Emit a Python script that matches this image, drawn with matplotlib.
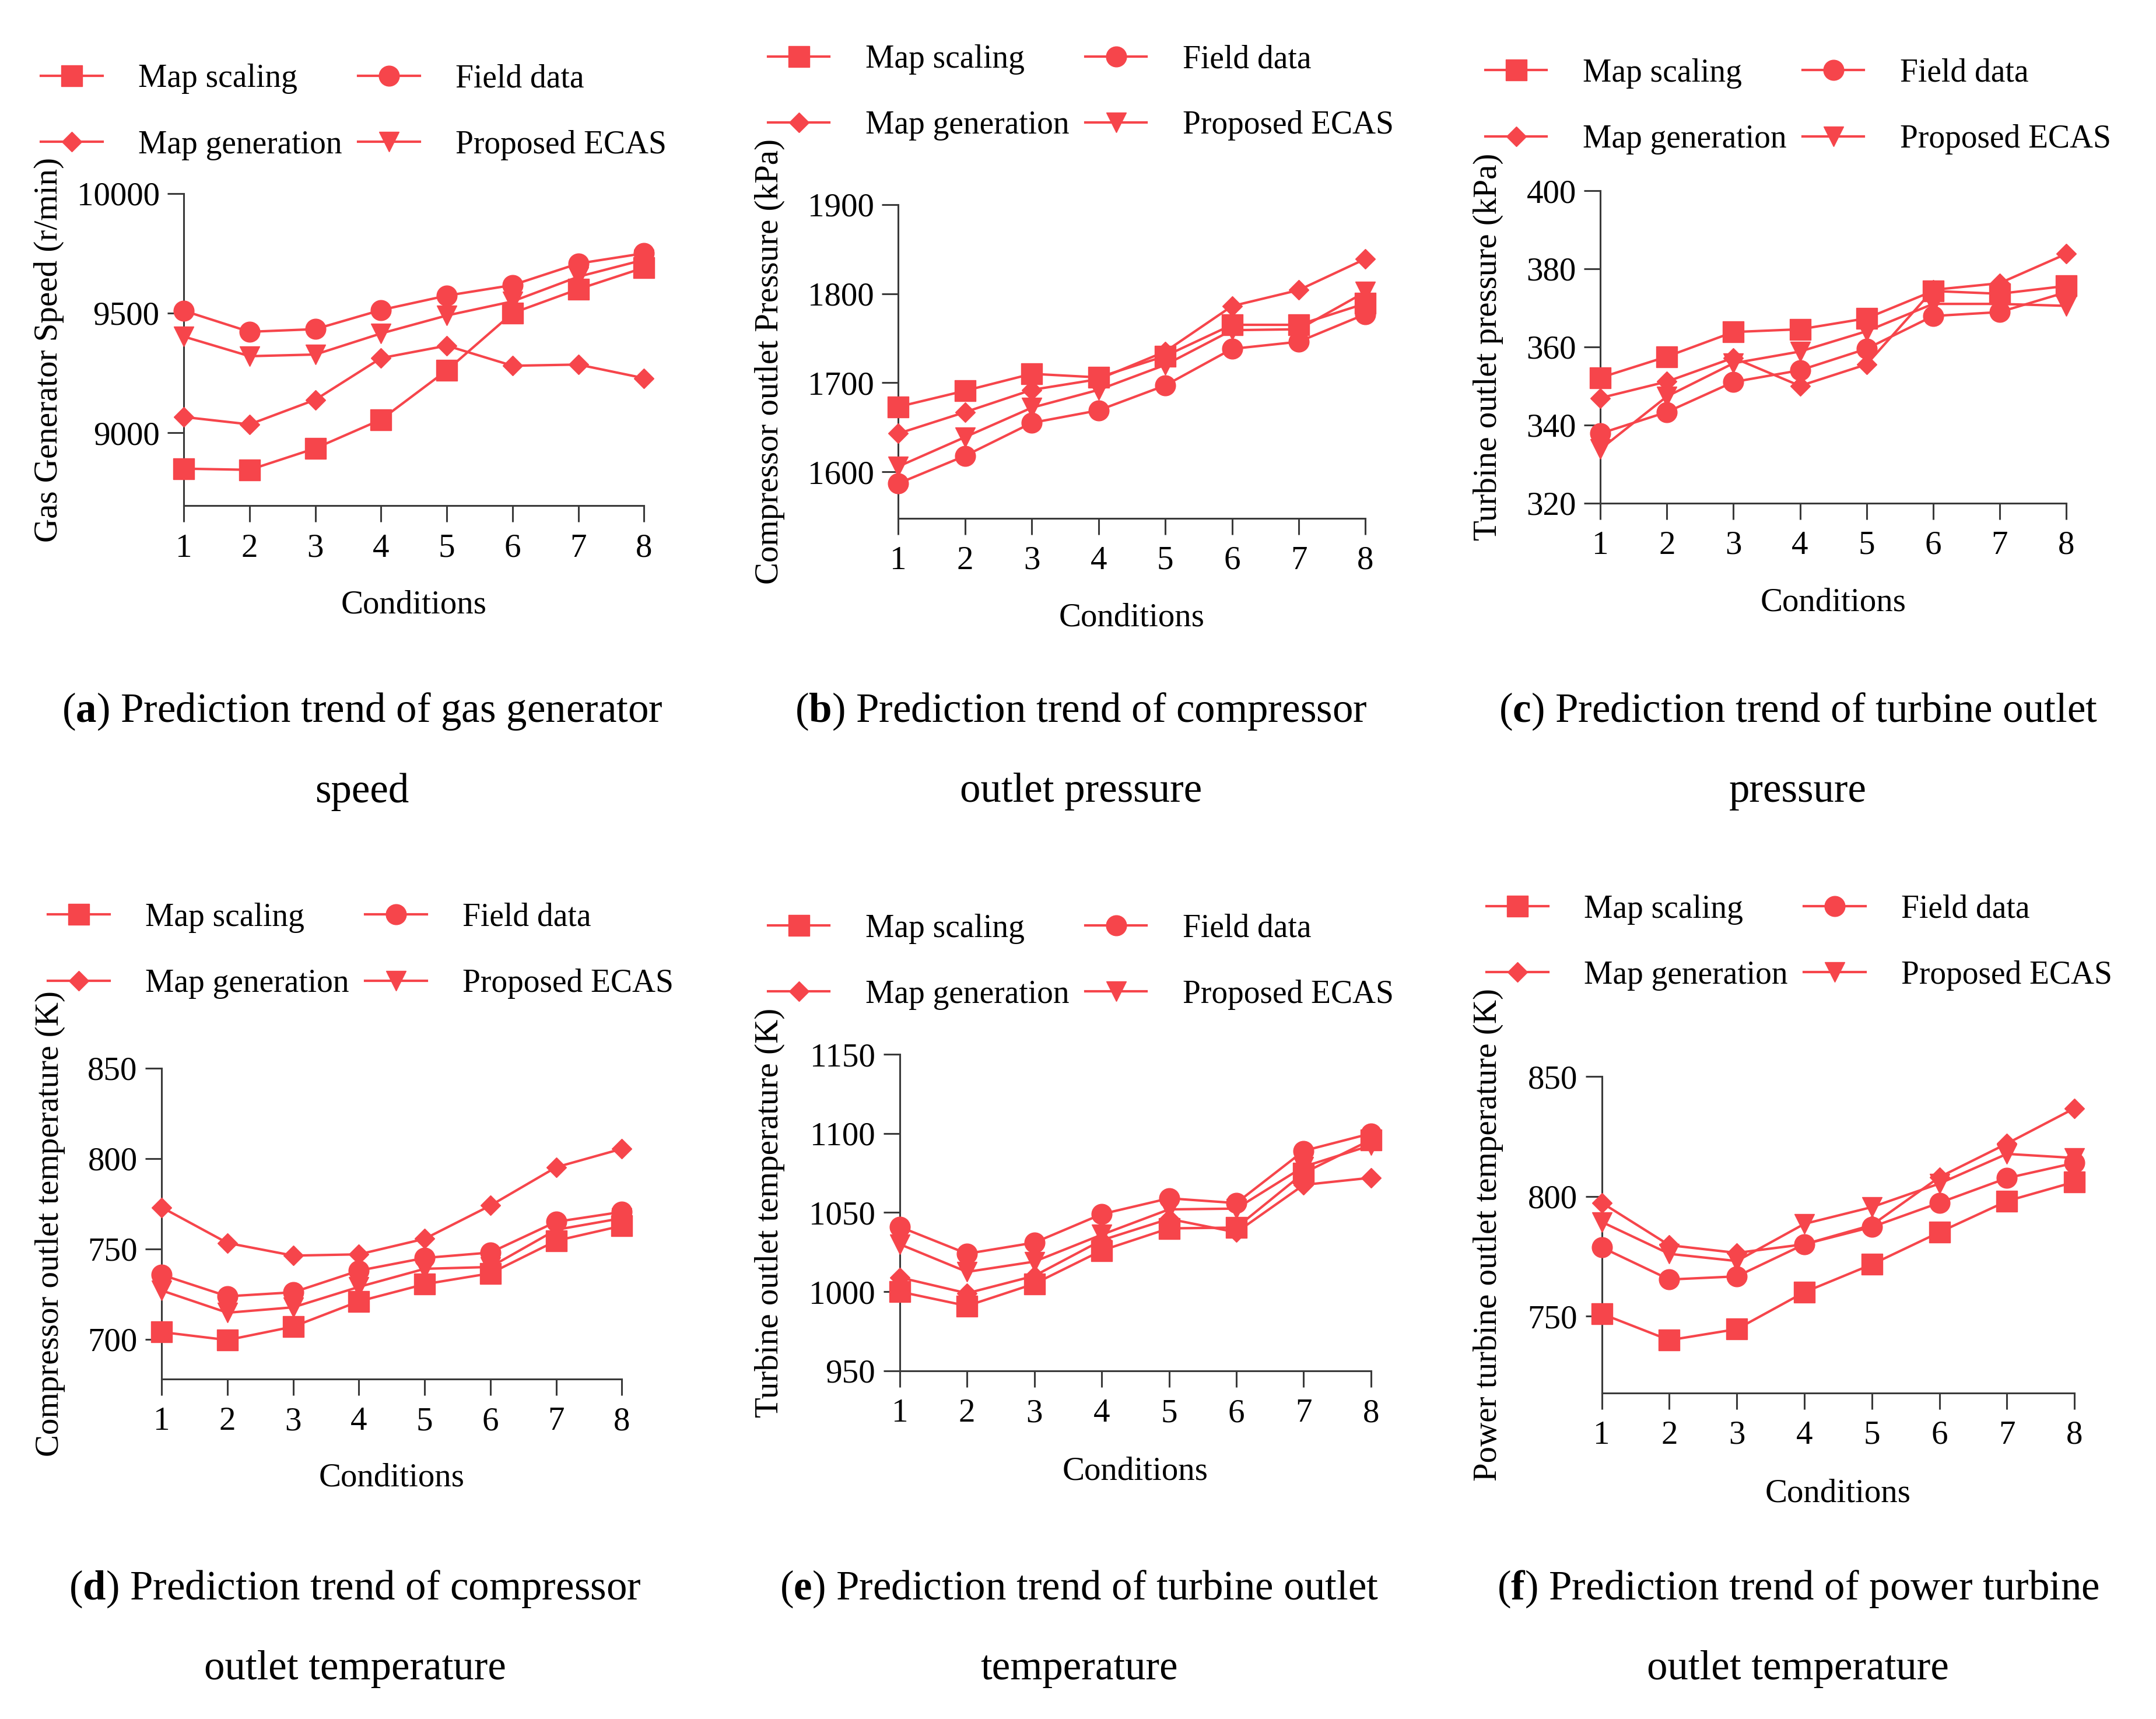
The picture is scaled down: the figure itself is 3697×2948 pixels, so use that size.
import numpy as np
import matplotlib
matplotlib.use("Agg")
import matplotlib.pyplot as plt

plt.rcParams['font.family'] = ['Liberation Serif', 'DejaVu Serif']
plt.rcParams['mathtext.fontset'] = 'custom'
plt.rcParams['mathtext.rm'] = 'Liberation Serif'
plt.rcParams['mathtext.bf'] = 'Liberation Serif:bold'

# x axis
conditions = [1, 2, 3, 4, 5, 6, 7, 8]
series_names = ['Map scaling', 'Field data', 'Map generation', 'Proposed ECAS']

# (a) gas generator speed (r/min)
speed_scaling = [8850, 8845, 8935, 9055, 9261, 9500, 9600, 9690]
speed_field = [9510, 9422, 9433, 9513, 9573, 9617, 9707, 9750]
speed_generation = [9066, 9035, 9138, 9312, 9364, 9280, 9285, 9228]
speed_ecas = [9402, 9320, 9327, 9415, 9490, 9549, 9652, 9723]

# (b) compressor outlet pressure (kPa)
cpress_scaling = [1673, 1691, 1710, 1706, 1730, 1765, 1765, 1789]
cpress_field = [1587, 1618, 1655, 1669, 1697, 1738, 1746, 1777]
cpress_generation = [1643, 1667, 1692, 1704, 1735, 1786, 1804, 1839]
cpress_ecas = [1606, 1639, 1672, 1692, 1720, 1759, 1760, 1802]

# (c) turbine outlet pressure (kPa)
tpress_scaling = [352.1, 357.5, 363.8, 364.5, 367.3, 374.3, 373.6, 375.6]
tpress_field = [337.8, 343.3, 351.0, 354.0, 359.5, 367.9, 368.9, 374.0]
tpress_generation = [346.9, 351.1, 357.2, 350.0, 355.5, 374.6, 376.3, 383.8]
tpress_ecas = [333.8, 347.3, 355.8, 358.8, 364.0, 371.0, 371.0, 370.5]

# (d) compressor outlet temperature (K)
ctemp_scaling = [704, 699.6, 707, 721, 730.5, 736.5, 754.5, 762.8]
ctemp_field = [735.7, 723.8, 726, 738, 745, 748, 765, 770.5]
ctemp_generation = [773, 753.3, 746.3, 747, 755.6, 774, 795.2, 805.4]
ctemp_ecas = [727, 714.7, 717.7, 729, 739, 740, 760.6, 767]

# (e) turbine outlet temperature (K)
ttemp_scaling = [1000, 991, 1005, 1026, 1040, 1040.5, 1075, 1096]
ttemp_field = [1041, 1024, 1031, 1049, 1059, 1056, 1089, 1100]
ttemp_generation = [1009, 999, 1010, 1032.5, 1046, 1037.5, 1067.5, 1072]
ttemp_ecas = [1030, 1012.5, 1019, 1036, 1052, 1052.5, 1079, 1092.5]

# (f) power turbine outlet temperature (K)
ptemp_scaling = [751, 740, 744.6, 760, 771.6, 785, 798, 806]
ptemp_field = [778.7, 765.3, 766.6, 780, 787.2, 797.3, 807.6, 813.9]
ptemp_generation = [797.3, 779.6, 776.4, 780, 788, 808, 822, 836.7]
ptemp_ecas = [789.3, 776, 773, 788.5, 795.5, 805.3, 817.7, 816]

ylabels = ['Gas Generator Speed (r/min)', 'Compressor outlet Pressure (kPa)',
           'Turbine outlet pressure (kPa)', 'Compressor outlet temperature (K)',
           'Turbine outlet temperature (K)', 'Power turbine outlet temperature (K)']
letters = ['a', 'b', 'c', 'd', 'e', 'f']
captions_1 = ['Prediction trend of gas generator', 'Prediction trend of compressor',
              'Prediction trend of turbine outlet', 'Prediction trend of compressor',
              'Prediction trend of turbine outlet', 'Prediction trend of power turbine']
captions_2 = ['speed', 'outlet pressure', 'pressure', 'outlet temperature',
              'temperature', 'outlet temperature']
ylims = [(8695, 10000), (1548, 1900), (320, 400), (678, 850), (950, 1150), (718, 850)]
yticks = [[9000, 9500, 10000], [1600, 1700, 1800, 1900], [320, 340, 360, 380, 400],
          [700, 750, 800, 850], [950, 1000, 1050, 1100, 1150], [750, 800, 850]]

panel_data = [
    (speed_scaling, speed_field, speed_generation, speed_ecas),
    (cpress_scaling, cpress_field, cpress_generation, cpress_ecas),
    (tpress_scaling, tpress_field, tpress_generation, tpress_ecas),
    (ctemp_scaling, ctemp_field, ctemp_generation, ctemp_ecas),
    (ttemp_scaling, ttemp_field, ttemp_generation, ttemp_ecas),
    (ptemp_scaling, ptemp_field, ptemp_generation, ptemp_ecas),
]

# layout, measured on a 1560 x 1244 grid of the reference
W, H = 1560.0, 1244.0
axes_px = [(133, 466, 140, 366), (650, 988, 148, 375), (1158, 1495, 138, 364),
           (117, 450, 773, 998), (651, 992, 763, 992), (1159, 1501, 779, 1008)]
legend_px = [(256, 81), (782, 67), (1301, 77), (261, 688), (782, 696), (1302, 682)]
ylabel_x = [-0.26, -0.243, -0.208, -0.21, -0.243, -0.208]
caption_px = [(262, 515, 573), (782, 515, 573), (1301, 515, 573),
              (257, 1150, 1208), (781, 1150, 1208), (1301, 1150, 1208)]

red = '#F6454B'
markers = ['s', 'o', 'D', 'v']
msizes = [26, 25, 17, 24]
spine_col = '#3a3a3a'

fig = plt.figure(figsize=(36.97, 29.48), dpi=100)

for i in range(6):
    l, r, t, b = axes_px[i]
    ax = fig.add_axes([l / W, 1 - b / H, (r - l) / W, (b - t) / H])
    lines = []
    for k in range(4):
        ln, = ax.plot(conditions, panel_data[i][k], color=red, lw=3.0,
                      marker=markers[k], ms=msizes[k], mec=red, mfc=red,
                      clip_on=False, label=series_names[k], zorder=3 + k * 0.1)
        lines.append(ln)

    ax.set_xlim(1, 8)
    ax.set_ylim(*ylims[i])
    ax.set_xticks(conditions)
    ax.set_yticks(yticks[i])
    for s in ['top', 'right']:
        ax.spines[s].set_visible(False)
    for s in ['left', 'bottom']:
        ax.spines[s].set_color(spine_col)
        ax.spines[s].set_linewidth(2.2)
    ax.tick_params(axis='both', direction='out', length=20, width=2.2,
                   color=spine_col, labelsize=41)
    ax.tick_params(axis='x', pad=14)
    ax.tick_params(axis='y', pad=10)

    ax.set_xlabel('Conditions', fontsize=41)
    ax.xaxis.set_label_coords(0.5, -0.27)
    ax.set_ylabel(ylabels[i], fontsize=41)
    ax.yaxis.set_label_coords(ylabel_x[i], 0.5)

    # legend, two columns above the axes
    lx, ly = legend_px[i]
    handles = [lines[0], lines[2], lines[1], lines[3]]
    fig.legend(handles, [h.get_label() for h in handles], loc='center',
               bbox_to_anchor=(lx / W, 1 - ly / H), ncol=2, frameon=False,
               fontsize=40, handlelength=1.9, handletextpad=1.1,
               columnspacing=0.5, labelspacing=1.1, borderpad=0)

    cx, cy1, cy2 = caption_px[i]
    fig.text(cx / W, 1 - cy1 / H, '(' + r'$\mathbf{' + letters[i] + '}$' + ') ' + captions_1[i],
             ha='center', va='center', fontsize=51)
    fig.text(cx / W, 1 - cy2 / H, captions_2[i], ha='center', va='center', fontsize=51)

fig.savefig('out.png', dpi=100, facecolor='white')
